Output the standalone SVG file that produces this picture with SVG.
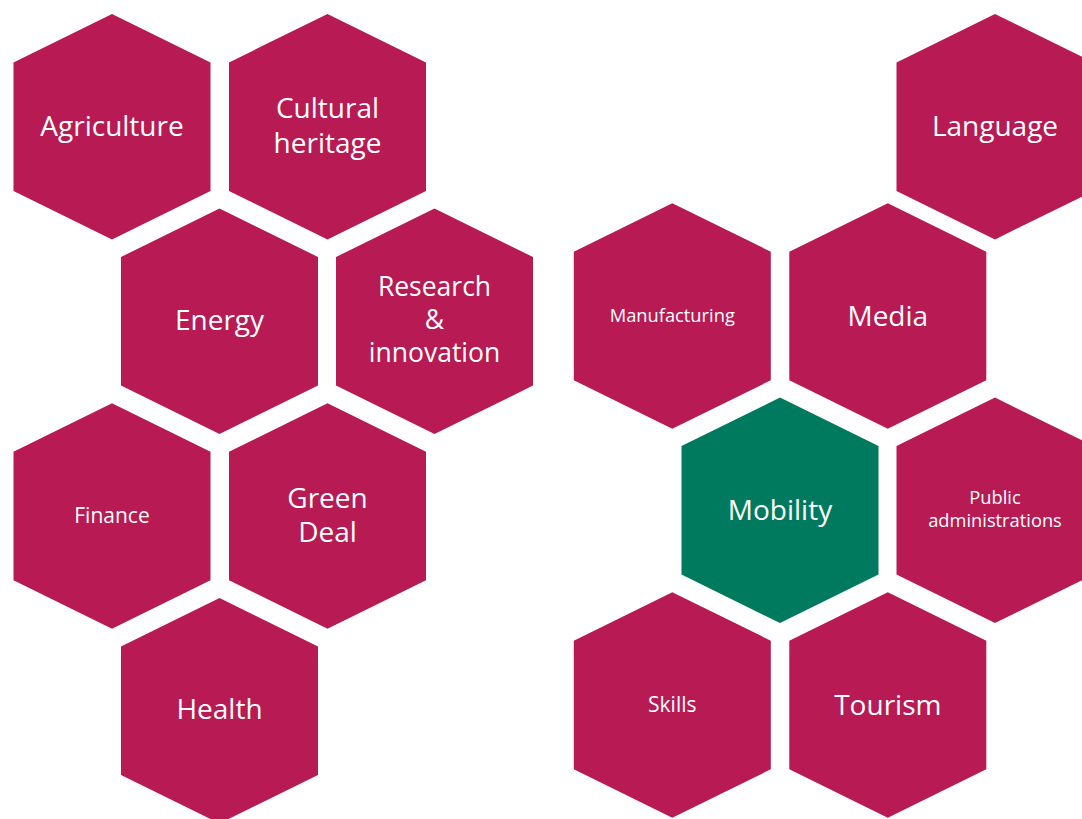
<svg xmlns="http://www.w3.org/2000/svg" xmlns:xlink="http://www.w3.org/1999/xlink" width="1082" height="819" viewBox="0 0 1082 819">
<style>
.hx{fill:#B81A53}
.hx.g{fill:#007A5E}
text{fill:#ffffff;font-family:"Open Sans","Liberation Sans",sans-serif;text-anchor:middle}
.l{font-size:28px}
.r{font-size:26.5px}
.s{font-size:18.3px}
.m{font-size:21px}
</style>
<defs>
<polygon id="hex" points="0,-112.7 98.5,-64.3 98.5,64.3 0,112.7 -98.5,64.3 -98.5,-64.3"/>
</defs>
<rect width="1082" height="819" fill="#ffffff"/>
<g id="agriculture"><use href="#hex" class="hx" x="112" y="126.7"/><text class="l" x="112" y="135.5">Agriculture</text></g>
<g id="cultural-heritage"><use href="#hex" class="hx" x="327.5" y="126.7"/><text class="l" x="327.5" y="118.3">Cultural</text><text class="l" x="327.5" y="152.7">heritage</text></g>
<g id="energy"><use href="#hex" class="hx" x="219.5" y="321.3"/><text class="l" x="219.5" y="330">Energy</text></g>
<g id="research-innovation"><use href="#hex" class="hx" x="434.5" y="321.3"/><text class="r" x="434.5" y="296">Research</text><text class="r" x="434.5" y="329">&amp;</text><text class="r" x="434.5" y="361.7">innovation</text></g>
<g id="finance"><use href="#hex" class="hx" x="112" y="516"/><text class="m" x="112" y="522.5">Finance</text></g>
<g id="green-deal"><use href="#hex" class="hx" x="327.5" y="516"/><text class="l" x="327.5" y="507.6">Green</text><text class="l" x="327.5" y="542">Deal</text></g>
<g id="health"><use href="#hex" class="hx" x="219.5" y="710.7"/><text class="l" x="219.5" y="719.3">Health</text></g>
<g id="language"><use href="#hex" class="hx" x="995" y="126.7"/><text class="l" x="995" y="135.7">Language</text></g>
<g id="manufacturing"><use href="#hex" class="hx" x="672.3" y="316"/><text class="s" x="672.3" y="322.3">Manufacturing</text></g>
<g id="media"><use href="#hex" class="hx" x="887.8" y="316"/><text class="l" x="887.8" y="325.7">Media</text></g>
<g id="mobility"><use href="#hex" class="hx g" x="780" y="510.3"/><text class="l" x="780" y="520">Mobility</text></g>
<g id="public-administrations"><use href="#hex" class="hx" x="995" y="510.3"/><text class="s" x="995" y="504.3">Public</text><text class="s" x="995" y="527.3">administrations</text></g>
<g id="skills"><use href="#hex" class="hx" x="672.3" y="705"/><text class="m" x="672.3" y="711.7">Skills</text></g>
<g id="tourism"><use href="#hex" class="hx" x="887.8" y="705"/><text class="l" x="887.8" y="715">Tourism</text></g>
</svg>
